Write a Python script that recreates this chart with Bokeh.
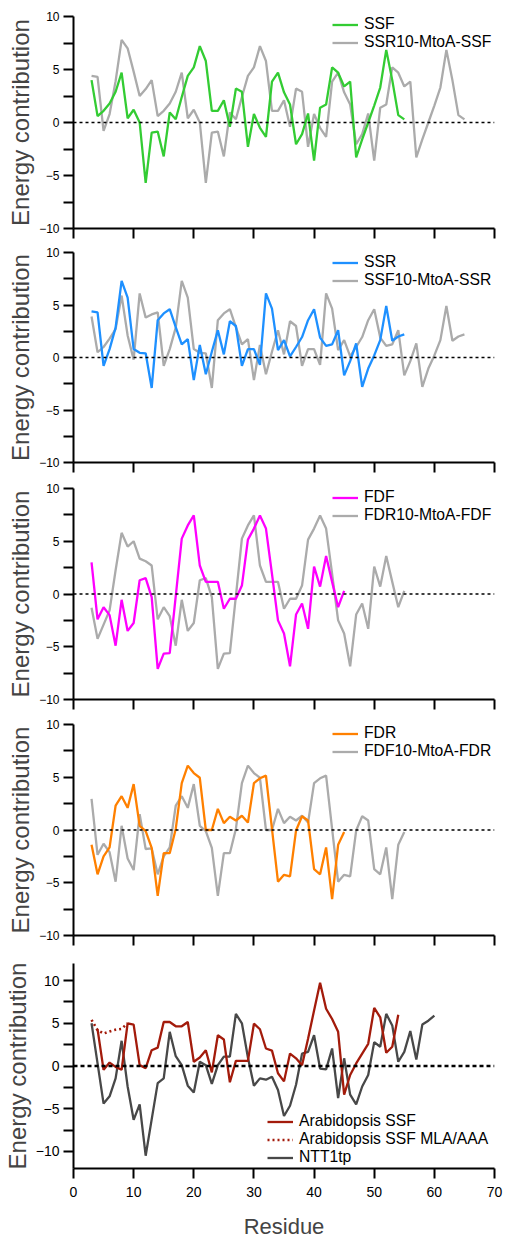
from bokeh.plotting import figure
from bokeh.models import Range1d, FixedTicker, Span, Legend, LegendItem
from bokeh.layouts import column
from bokeh.embed import file_html
from bokeh.resources import INLINE

FONT = "Liberation Sans"

# ---------------- data (energy contribution per residue, starting at residue 3) ----------------
start_residue = 3

ssf = [4.0, 0.6, 1.1, 1.8, 2.9, 4.7, 0.4, 1.2, 0.0, -5.7, -0.95, -0.85, -3.2, 0.95, 0.3, 2.4, 4.4,
       5.2, 7.2, 5.8, 1.1, 1.1, 2.1, -0.4, 3.2, 2.9, -2.3, 0.8, -0.5, -1.35, 3.85, 4.7, 2.85, 1.7,
       -2.05, -1.1, 0.85, -3.6, 1.4, 1.7, 5.2, 4.7, 3.4, 3.85, -3.3, -1.6, 0.0, 1.6, 3.3, 6.85, 4.0,
       0.7, 0.3]
ssr10_mtoa_ssf = [4.4, 4.3, -0.8, 0.8, 3.9, 7.8, 7.0, 4.8, 2.5, 3.15,
                  4.0, 0.6, 1.1, 1.8, 2.9, 4.7, 0.4, 1.2, 0.0, -5.7, -0.95, -0.85, -3.2, 0.95, 0.3,
                  2.4, 4.4, 5.2, 7.2, 5.8, 1.1, 1.1, 2.1, -0.4, 3.2, 2.9, -2.3, 0.8, -0.5, -1.35,
                  3.85, 4.7, 2.85, 1.7, -2.05, -1.1, 0.85, -3.6, 1.4, 1.7, 5.2, 4.7, 3.4, 3.85,
                  -3.3, -1.6, 0.0, 1.6, 3.3, 6.85, 4.0, 0.7, 0.3]

ssr = [4.4, 4.3, -0.8, 0.8, 2.85, 7.3, 5.7, 0.8, 0.45, 0.4, -2.9, 3.55, 4.2, 4.6, 2.9, 1.25, 1.75,
       -2.15, 1.2, -1.6, 0.55, 2.6, 0.3, 3.45, 3.0, -0.8, 0.8, 0.8, -0.7, 6.1, 4.65, 0.7, 1.65, 0.1,
       1.0, 1.95, 3.55, 4.6, 1.9, 1.1, 1.25, 2.6, -1.7, -0.35, 1.35, -2.8, -1.05, 0.2, 1.65, 4.9,
       1.6, 2.0, 2.2]
ssf10_mtoa_ssr = [3.9, 0.5, 1.0, 1.8, 2.7, 5.9, 2.1, -0.2, 6.1, 3.8, 4.1, 4.3,
                  -0.8, 0.8, 2.85, 7.3, 5.7, 0.8, 0.45, 0.4, -2.9, 3.55, 4.2, 4.6, 2.9, 1.25, 1.75,
                  -2.15, 1.2, -1.6, 0.55, 2.6, 0.3, 3.45, 3.0, -0.8, 0.8, 0.8, -0.7, 6.1, 4.65, 0.7,
                  1.65, 0.1, 1.0, 1.95, 3.55, 4.6, 1.9, 1.1, 1.25, 2.6, -1.7, -0.35, 1.35, -2.8,
                  -1.05, 0.2, 1.65, 4.9, 1.6, 2.0, 2.2]

fdf = [3.0, -2.4, -1.25, -2.0, -4.9, -0.55, -3.5, -2.75, 1.3, 1.5, -0.3, -7.1, -5.65, -5.6, -0.2,
       5.25, 6.5, 7.45, 2.7, 1.15, 1.15, 1.15, -1.4, -0.45, -0.45, 0.8, 5.15, 6.2, 7.45, 6.2, 1.9,
       -2.5, -3.75, -6.85, -1.95, -0.9, -3.3, 2.6, 0.7, 3.6, 1.15, -1.25, 0.3]
fdr10_mtoa_fdf = [-1.3, -4.25, -2.9, -1.55, 2.25, 5.8, 4.5, 5.0, 3.35, 3.1, 2.7,
                  -2.4, -1.25, -2.1, -4.9, -0.55, -3.5, -2.75, 1.3, 1.5, -0.3, -7.1, -5.65, -5.6,
                  -0.2, 5.25, 6.5, 7.45, 2.7, 1.15, 1.15, 1.15, -1.4, -0.45, -0.45, 0.8, 5.15, 6.2,
                  7.45, 6.2, 1.9, -2.5, -3.75, -6.85, -1.95, -0.9, -3.3, 2.6, 0.7, 3.6, 1.15, -1.25,
                  0.3]

fdr = [-1.4, -4.2, -2.5, -1.65, 2.3, 3.2, 2.1, 4.35, 0.4, -0.1, -1.7, -6.25, -2.2, -2.2, 0.1, 4.45,
       6.1, 5.4, 4.95, 0.0, 0.0, 2.0, 0.65, 1.25, 0.9, 1.35, 0.7, 4.45, 4.9, 5.15, 0.1, -4.9, -4.25,
       -4.4, -0.05, 1.3, 0.9, -3.7, -4.2, -1.65, -6.55, -1.4, -0.2]
fdf10_mtoa_fdr = [2.95, -2.35, -1.3, -2.1, -4.9, 0.4, -2.7, -3.8, 1.5, -1.8, -1.75,
                  -4.2, -2.5, -1.65, 2.3, 3.2, 2.1, 4.35, 0.4, -0.1, -1.7, -6.25, -2.2, -2.2, 0.1,
                  4.45, 6.1, 5.4, 4.95, 0.0, 0.0, 2.0, 0.65, 1.25, 0.9, 1.35, 0.7, 4.45, 4.9, 5.15,
                  0.1, -4.9, -4.25, -4.4, -0.05, 1.3, 0.9, -3.7, -4.2, -1.65, -6.55, -1.4, -0.2]

arab_ssf_start = 4
arab_ssf = [4.3, -0.45, 0.4, -0.1, -0.45, 5.0, 4.85, 0.1, -0.25, 1.85, 2.15, 5.15, 5.15, 4.65, 4.65,
            5.15, 0.5, 1.0, 1.85, -0.75, 3.6, 3.1, -1.9, 0.6, 0.6, 0.6, 4.95, 4.3, 2.05, 1.8, -0.85,
            -1.8, 1.45, 0.9, 0.1, 3.2, 6.5, 9.75, 6.7, 5.5, 4.0, -3.35, -1.05, 0.3, 1.45, 2.6, 6.8,
            5.7, 1.55, 2.25, 6.0]
arab_ssf_mla = [5.4, 4.2, 3.8, 4.05, 4.25, 4.35, 5.0]
ntt1tp = [5.0, 0.3, -4.4, -3.55, -1.45, 2.95, -2.4, -6.3, -4.5, -10.5, -6.25, -2.0, -1.45, 4.0, 1.15,
          0.1, -2.3, -3.1, 0.5, 0.1, -2.1, 0.1, 1.1, 1.1, 6.1, 5.0, 1.0, -2.3, -1.45, -1.6, -1.25,
          -2.8, -5.85, -4.65, -2.2, 1.45, 1.65, 3.6, -0.3, -0.4, 2.05, -3.75, 0.9, -3.35, -4.5, -2.4,
          -1.05, 2.8, 2.25, 6.1, 4.75, 0.5, 1.65, 4.1, 0.75, 4.85, 5.3, 5.9]

x_ticks = [0, 10, 20, 30, 40, 50, 60, 70]
y_major = [-10, -5, 0, 5, 10]
y_minor = [-7.5, -2.5, 2.5, 7.5]


def residues(vals, first=start_residue):
    return list(range(first, first + len(vals)))


def make_panel(height, top, bottom, ylim, tick_font, last=False):
    p = figure(width=505, height=height, x_range=Range1d(0, 70), y_range=Range1d(-ylim, ylim),
               output_backend="svg", toolbar_location=None,
               min_border_left=73, min_border_right=11, min_border_top=top, min_border_bottom=bottom)
    p.outline_line_color = None
    p.grid.visible = False
    p.background_fill_color = "white"
    p.border_fill_color = "white"
    for ax in (p.xaxis[0], p.yaxis[0]):
        ax.axis_line_width = 2
        ax.axis_line_color = "black"
        ax.major_tick_line_width = 2
        ax.minor_tick_line_width = 2
        ax.major_tick_out = 10
        ax.major_tick_in = 0
        ax.minor_tick_out = 10
        ax.minor_tick_in = 0
        ax.major_label_text_font = FONT
        ax.axis_label_text_font = FONT
        ax.axis_label_text_font_style = "normal"
        ax.major_label_text_color = "black"
    p.yaxis.ticker = FixedTicker(ticks=y_major, minor_ticks=y_minor)
    p.yaxis.major_label_text_font_size = tick_font
    p.yaxis.major_label_standoff = 4
    p.yaxis.axis_label = "Energy contribution"
    p.yaxis.axis_label_text_font_size = "24px"
    p.yaxis.axis_label_standoff = 2
    if last:
        p.xaxis.ticker = FixedTicker(ticks=x_ticks)
        p.xaxis.major_label_text_font_size = "14px"
        p.xaxis.major_label_standoff = 8
        p.xaxis.axis_label = "Residue"
        p.xaxis.axis_label_text_font_size = "22px"
        p.xaxis.axis_label_standoff = 14
    else:
        # unlabeled tick marks on the shared residue axis
        p.xaxis.ticker = FixedTicker(ticks=[], minor_ticks=x_ticks)
    return p


def add_zero(p, width=1.3, dash="3 3"):
    p.add_layout(Span(location=0, dimension="width", line_color="black",
                      line_width=width, line_dash=dash))


def add_legend(p, items, x, y):
    leg = Legend(items=items, location=(x, y), orientation="vertical",
                 padding=0, margin=0, spacing=0, glyph_width=26, glyph_height=15,
                 label_height=15, label_standoff=6,
                 label_text_font=FONT, label_text_font_size="15.7px", label_text_color="black",
                 border_line_color=None, background_fill_alpha=0)
    p.add_layout(leg, "center")


GRAY = "#ababab"
LW = 2.3

panels = []

# Panel 1
p1 = make_panel(240, 16, 12, 10, "12px")
add_zero(p1)
g1 = p1.line(residues(ssr10_mtoa_ssf), ssr10_mtoa_ssf, line_color=GRAY, line_width=LW)
c1 = p1.line(residues(ssf), ssf, line_color="#33cc33", line_width=LW)
add_legend(p1, [LegendItem(label="SSF", renderers=[c1]),
                LegendItem(label="SSR10-MtoA-SSF", renderers=[g1])], 259, 177)
panels.append(p1)

# Panel 2
p2 = make_panel(234, 12, 12, 10, "12px")
add_zero(p2)
g2 = p2.line(residues(ssf10_mtoa_ssr), ssf10_mtoa_ssr, line_color=GRAY, line_width=LW)
c2 = p2.line(residues(ssr), ssr, line_color="#1e90ff", line_width=LW)
add_legend(p2, [LegendItem(label="SSR", renderers=[c2]),
                LegendItem(label="SSF10-MtoA-SSR", renderers=[g2])], 259, 173)
panels.append(p2)

# Panel 3
p3 = make_panel(237, 14, 12, 10, "12px")
add_zero(p3)
g3 = p3.line(residues(fdr10_mtoa_fdf), fdr10_mtoa_fdf, line_color=GRAY, line_width=LW)
c3 = p3.line(residues(fdf), fdf, line_color="#ff00ff", line_width=LW)
add_legend(p3, [LegendItem(label="FDF", renderers=[c3]),
                LegendItem(label="FDR10-MtoA-FDF", renderers=[g3])], 259, 175)
panels.append(p3)

# Panel 4
p4 = make_panel(238, 13, 14, 10, "12px")
add_zero(p4)
g4 = p4.line(residues(fdf10_mtoa_fdr), fdf10_mtoa_fdr, line_color=GRAY, line_width=LW)
c4 = p4.line(residues(fdr), fdr, line_color="#ff8000", line_width=LW)
add_legend(p4, [LegendItem(label="FDR", renderers=[c4]),
                LegendItem(label="FDF10-MtoA-FDR", renderers=[g4])], 259, 175)
panels.append(p4)

# Panel 5
p5 = make_panel(292, 14, 72, 12, "14px", last=True)
add_zero(p5, width=2.3, dash="4 3")
RED = "#a31b0b"
n1 = p5.line(residues(ntt1tp), ntt1tp, line_color="#484848", line_width=LW)
r1 = p5.line(residues(arab_ssf, arab_ssf_start), arab_ssf, line_color=RED, line_width=LW)
r2 = p5.line(residues(arab_ssf_mla), arab_ssf_mla, line_color=RED, line_width=2.6, line_dash="2 3")
add_legend(p5, [LegendItem(label="Arabidopsis SSF", renderers=[r1]),
                LegendItem(label="Arabidopsis SSF MLA/AAA", renderers=[r2]),
                LegendItem(label="NTT1tp", renderers=[n1])], 194, 2)
panels.append(p5)

layout = column(*panels, spacing=0)
open("out.html", "w").write(file_html(layout, INLINE))
